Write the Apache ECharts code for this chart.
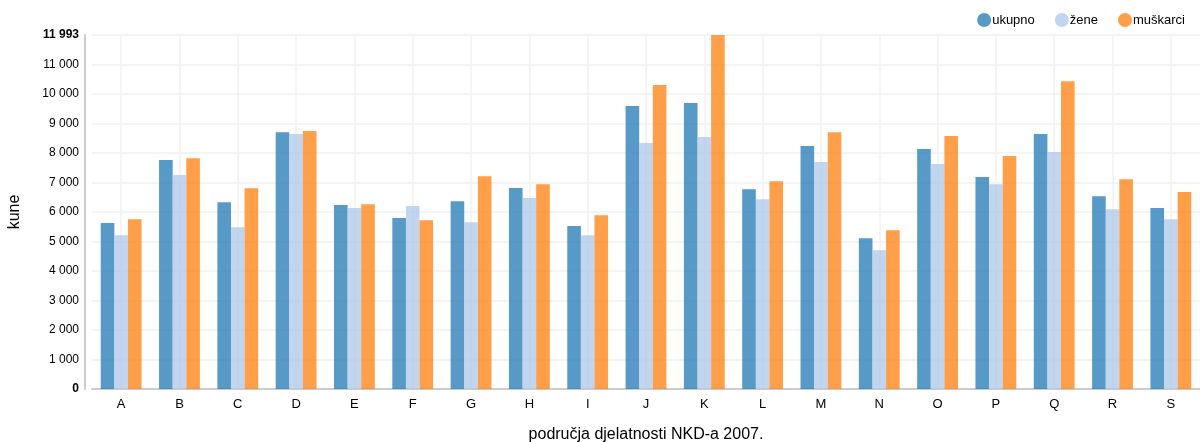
<!DOCTYPE html>
<html>
<head>
<meta charset="utf-8">
<script src="https://cdn.jsdelivr.net/npm/echarts@6/dist/echarts.min.js"></script>
<style>html,body{margin:0;padding:0;background:#fff}#c{width:1200px;height:442px}</style>
</head>
<body>
<div id="c"></div>
<script>
const categories = ['A','B','C','D','E','F','G','H','I','J','K','L','M','N','O','P','Q','R','S'];
const ukupno   = [5620,7755,6330,8700,6230,5790,6360,6810,5520,9585,9690,6770,8230,5110,8130,7180,8640,6530,6130];
const zene     = [5210,7250,5480,8640,6130,6200,5650,6470,5210,8330,8540,6430,7690,4700,7620,6940,8030,6090,5750];
const muskarci = [5755,7820,6800,8740,6260,5720,7210,6940,5890,10300,11993,7040,8700,5380,8570,7890,10430,7110,6670];
const seriesNames = ['ukupno','žene','muškarci'];
const colors = ['#1f77b4','#aec7e8','#ff7f0e'];
const yMax = 11993;
const yInterval = 1000;

function fmt(v){ return String(Math.round(v)).replace(/\B(?=(\d{3})+(?!\d))/g,' '); }

const halfSteps = [];
for (let i = 0; i <= categories.length * 2; i++) halfSteps.push(String(i));

const chart = echarts.init(document.getElementById('c'));
const font = 'Liberation Sans, Arial, sans-serif';
chart.setOption({
  animation: false,
  color: colors,
  textStyle: { fontFamily: font },
  legend: {
    right: 10, top: 8,
    icon: 'circle', itemWidth: 14, itemHeight: 14, itemGap: 20,
    textStyle: { fontSize: 13, color: '#000', padding: [0,0,0,-4] },
    data: seriesNames
  },
  grid: { left: 92, right: 0, top: 35, bottom: 53, containLabel: false, outerBoundsMode: 'none' },
  xAxis: [{
    type: 'category', data: categories,
    name: 'područja djelatnosti NKD-a 2007.', nameLocation: 'middle', nameGap: 38,
    nameTextStyle: { fontSize: 16, color: '#000' },
    axisLine: { lineStyle: { color: '#ccc', width: 2 } },
    axisTick: { show: false },
    axisLabel: { fontSize: 13, color: '#000', margin: 9 },
    splitLine: { show: false }
  }, {
    type: 'category', data: halfSteps, boundaryGap: false, show: true,
    position: 'bottom',
    axisLine: { show: false }, axisTick: { show: false }, axisLabel: { show: false },
    splitLine: { show: true, interval: function(i){ return i % 2 === 1; }, lineStyle: { color: '#f2f2f2', width: 1.5 } }
  }],
  yAxis: {
    type: 'value', min: 0, max: yMax, interval: yInterval, offset: 7,
    name: 'kune', nameLocation: 'middle', nameGap: 62,
    nameTextStyle: { fontSize: 16, color: '#000' },
    axisLine: { show: true, lineStyle: { color: '#ccc', width: 2 } },
    axisTick: { show: false },
    axisLabel: {
      fontSize: 12, color: '#000', margin: 6,
      formatter: function(v){ return (v === 0 || v === yMax) ? '{b|' + fmt(v) + '}' : fmt(v); },
      rich: { b: { fontWeight: 'bold', fontSize: 12, color: '#000' } }
    },
    splitLine: { lineStyle: { color: '#f0f0f0', width: 1.5 } }
  },
  series: [ukupno, zene, muskarci].map(function(d, i){
    return {
      name: seriesNames[i], type: 'bar', data: d, xAxisIndex: 0,
      barGap: '0%', barCategoryGap: '30%',
      itemStyle: { opacity: 0.75 }
    };
  })
});
</script>
</body>
</html>
